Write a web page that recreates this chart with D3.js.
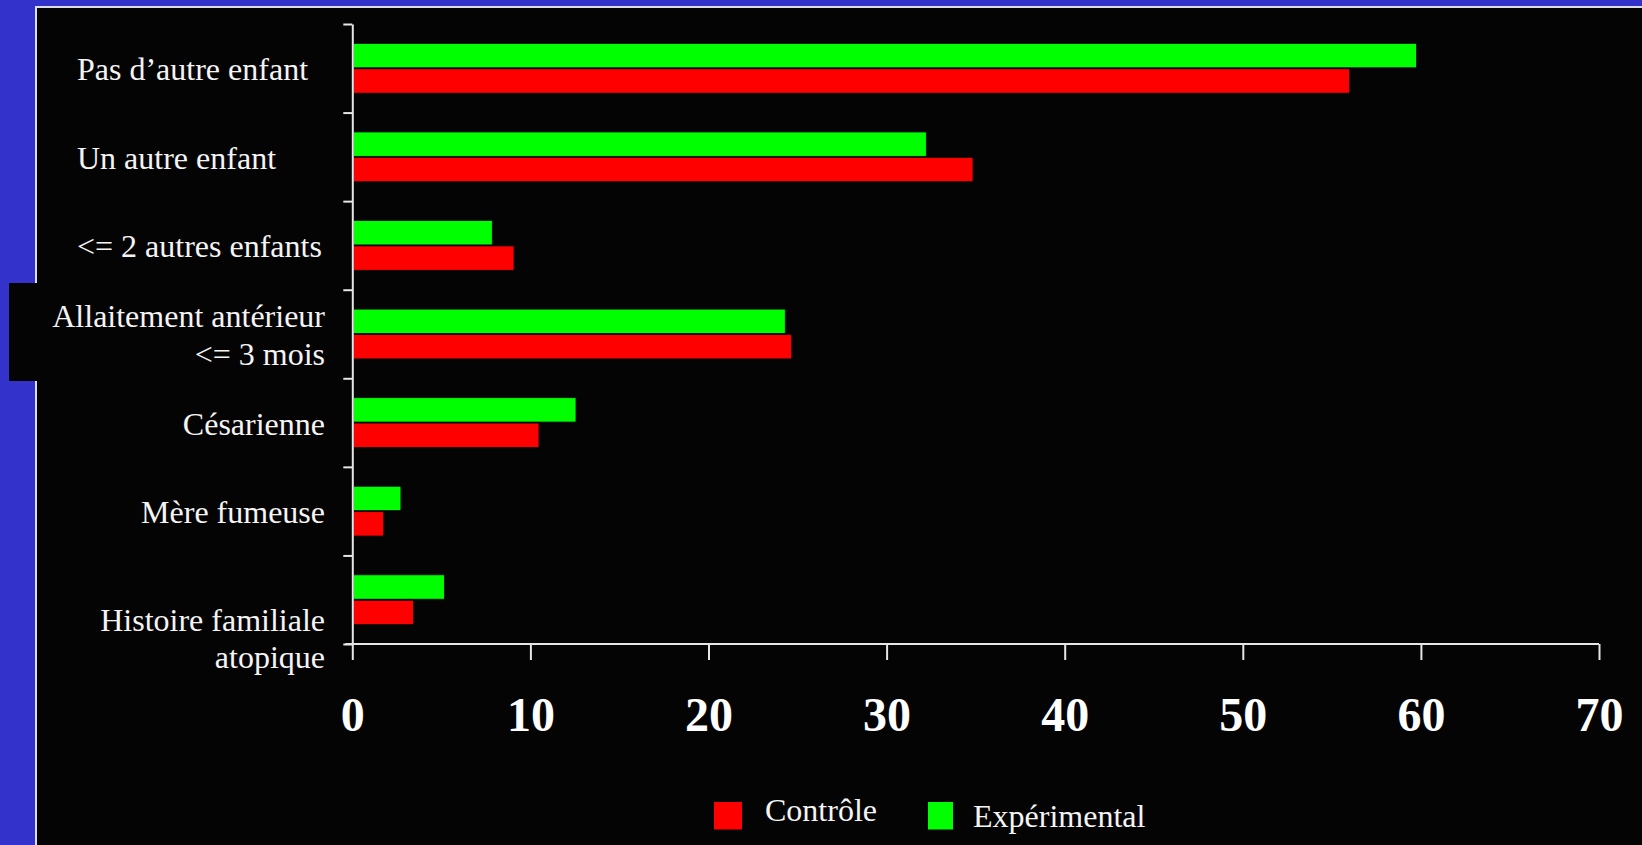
<!DOCTYPE html>
<html lang="fr">
<head>
<meta charset="utf-8">
<script src="https://cdn.jsdelivr.net/npm/d3@7"></script>
<style>
  html, body { margin: 0; padding: 0; background: #3333cc; }
  svg { display: block; }
</style>
</head>
<body>
<svg id="chart" width="1642" height="845"></svg>
<script>
// Categories (top to bottom) and their label lines
const categories = [
  "Pas d’autre enfant",
  "Un autre enfant",
  "<= 2 autres enfants",
  "Allaitement antérieur\n<= 3 mois",
  "Césarienne",
  "Mère fumeuse",
  "Histoire familiale\natopique"
];

// Percentages per group
const controle     = [56.0, 34.85, 9.08, 24.67, 10.48, 1.76, 3.43];
const experimental = [59.75, 32.23, 7.86, 24.31, 12.56, 2.73, 5.17];

// Series order inside each band (green drawn above red)
const seriesNames = ["Expérimental", "Contrôle"];
const seriesColors = { "Expérimental": "#00ff00", "Contrôle": "#ff0000" };
const seriesValues = { "Expérimental": experimental, "Contrôle": controle };

// Axis ticks
const xTicks = [0, 10, 20, 30, 40, 50, 60, 70];

const svg = d3.select("#chart");
const W = 1642, H = 845;
const serif = "'Liberation Serif', 'Times New Roman', serif";
const axisColor = "#e6e6e6";

// Blue slide background and black panel with a light frame
svg.append("rect").attr("width", W).attr("height", H).attr("fill", "#3333cc");
svg.append("rect")
  .attr("x", 36).attr("y", 7).attr("width", W - 36 + 5).attr("height", H - 7 + 5)
  .attr("fill", "#040404").attr("stroke", "#dcdcf2").attr("stroke-width", 2);
// Label box behind the breast-feeding label, overhanging the frame
svg.append("rect")
  .attr("x", 9).attr("y", 283).attr("width", 330).attr("height", 98)
  .attr("fill", "#040404");

// Scales
const x = d3.scaleLinear().domain([0, 70]).range([352.3, 1599]);
const y = d3.scaleBand().domain(categories).range([24, 644]).paddingInner(0).paddingOuter(0);
const yIdx = d3.scaleLinear().domain([0, categories.length]).range([24, 644]);
const ySub = d3.scaleBand().domain(seriesNames)
  .range([19.4, y.bandwidth() - 19.4]).paddingInner(0.04);

// Bars
const groups = svg.append("g").selectAll("g")
  .data(categories)
  .join("g")
  .attr("transform", d => `translate(0,${y(d)})`);

groups.selectAll("rect")
  .data((d, i) => seriesNames.map(s => ({ s, v: seriesValues[s][i] })))
  .join("rect")
  .attr("x", x(0) + 1)
  .attr("y", d => ySub(d.s))
  .attr("width", d => x(d.v) - x(0) - 1)
  .attr("height", ySub.bandwidth())
  .attr("fill", d => seriesColors[d.s])
  .attr("stroke", "#0a0a0a")
  .attr("stroke-width", 0.8);

// Vertical axis: ticks at the band boundaries
const yAxis = svg.append("g")
  .attr("transform", `translate(${x(0)},0)`)
  .call(d3.axisLeft(yIdx).tickValues(d3.range(categories.length + 1))
    .tickSize(9).tickSizeOuter(0).tickFormat(""));
yAxis.select(".domain").attr("stroke", axisColor).attr("stroke-width", 2);
yAxis.selectAll(".tick line").attr("stroke", axisColor).attr("stroke-width", 2);

// Horizontal axis
const xAxis = svg.append("g")
  .attr("transform", `translate(0,644)`)
  .call(d3.axisBottom(x).tickValues(xTicks).tickSize(16).tickSizeOuter(0).tickFormat(d3.format("d")));
xAxis.select(".domain").remove();
xAxis.append("line")
  .attr("x1", x(0) - 7).attr("x2", x(70)).attr("y1", 0).attr("y2", 0)
  .attr("stroke", axisColor).attr("stroke-width", 2);
xAxis.selectAll(".tick line").attr("stroke", axisColor).attr("stroke-width", 2);
xAxis.selectAll(".tick text")
  .attr("y", 87).attr("dy", 0)
  .attr("fill", "#ffffff")
  .style("font-family", serif)
  .style("font-size", "48px")
  .style("font-weight", "bold");

// Category labels: the first three are left-aligned, the rest right-aligned
const lineH = 37.7;
const labels = svg.append("g").selectAll("text")
  .data(categories)
  .join("text")
  .attr("fill", "#f4f4f4")
  .style("font-family", serif)
  .style("font-size", "32px")
  .attr("text-anchor", (d, i) => i < 3 ? "start" : "end")
  .each(function (d, i) {
    const lines = d.split("\n");
    const cx = i < 3 ? 77 : 325;
    // the last label drops one line below the band, across the axis
    const shift = i === categories.length - 1 ? lineH : 0;
    const y0 = y(d) + y.bandwidth() / 2 + 12 - (lines.length - 1) * lineH / 2 + shift;
    d3.select(this).selectAll("tspan")
      .data(lines)
      .join("tspan")
      .attr("x", cx)
      .attr("y", (l, k) => y0 + k * lineH)
      .text(l => l);
  });

// Legend
const legendItems = [
  { name: "Contrôle", sx: 714, sw: 28, tx: 765, ty: 821 },
  { name: "Expérimental", sx: 928, sw: 25, tx: 973, ty: 827 }
];
const legend = svg.append("g");
legend.selectAll("rect")
  .data(legendItems)
  .join("rect")
  .attr("x", d => d.sx).attr("y", 802)
  .attr("width", d => d.sw).attr("height", 27.5)
  .attr("fill", d => seriesColors[d.name]);
legend.selectAll("text")
  .data(legendItems)
  .join("text")
  .attr("x", d => d.tx).attr("y", d => d.ty)
  .attr("fill", "#f4f4f4")
  .style("font-family", serif)
  .style("font-size", "32px")
  .text(d => d.name);
</script>
</body>
</html>
